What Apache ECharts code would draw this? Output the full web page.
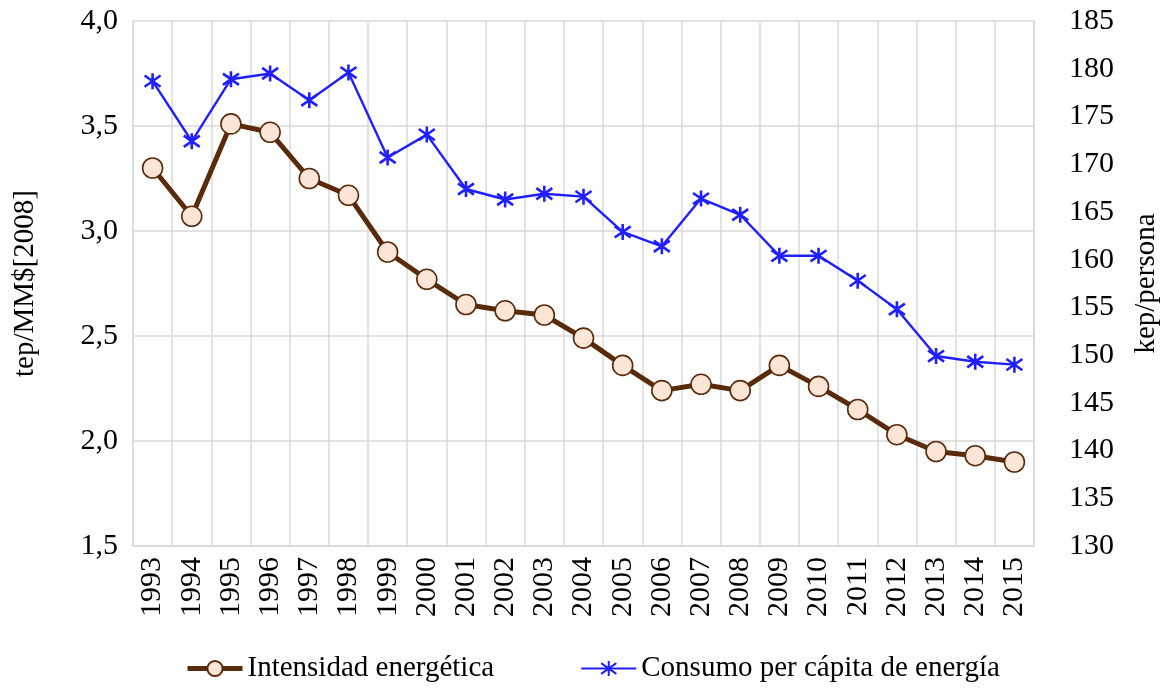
<!DOCTYPE html>
<html>
<head>
<meta charset="utf-8">
<script src="https://cdn.jsdelivr.net/npm/echarts@6/dist/echarts.min.js"></script>
<style>html,body{margin:0;padding:0;background:#fff}#c{width:1163px;height:690px}</style>
</head>
<body>
<div id="c"></div>
<script>
var years = ['1993','1994','1995','1996','1997','1998','1999','2000','2001','2002','2003','2004','2005','2006','2007','2008','2009','2010','2011','2012','2013','2014','2015'];
var intensidad = [3.30,3.07,3.51,3.47,3.25,3.17,2.90,2.77,2.65,2.62,2.60,2.49,2.36,2.24,2.27,2.24,2.36,2.26,2.15,2.03,1.95,1.93,1.90];
var consumo = [178.7,172.4,178.9,179.5,176.7,179.6,170.7,173.1,167.4,166.3,166.9,166.6,162.9,161.4,166.4,164.7,160.4,160.4,157.8,154.8,149.9,149.3,149.0];
var leftTicks = {min:1.5, max:4.0, interval:0.5};
var rightTicks = {min:130, max:185, interval:5};

var font = 'Liberation Serif';
var brown = '#5a2b0b';
var blue = '#1f1fff';
var starPath = 'path://M5,0L5,10M0,1.5L10,8.5M10,1.5L0,8.5';
var chart = echarts.init(document.getElementById('c'));
chart.setOption({
  backgroundColor: '#ffffff',
  animation: false,
  textStyle: {fontFamily: font, color: '#000'},
  grid: {left: 133, right: 129, top: 21, bottom: 144, show: false, outerBoundsMode: 'none', containLabel: false},
  legend: {
    bottom: 2, left: 180, itemWidth: 55, itemHeight: 19, itemGap: 86,
    textStyle: {fontFamily: font, fontSize: 29, color: '#000'},
    data: [
      {name: 'Intensidad energética', lineStyle: {width: 5, color: brown}},
      {name: 'Consumo per cápita de energía', lineStyle: {width: 2.2, color: blue}}
    ]
  },
  xAxis: {
    type: 'category', data: years, boundaryGap: true,
    axisLine: {show: true, lineStyle: {color: '#d9d9d9', width: 1.5}},
    axisTick: {show: false},
    splitLine: {show: true, interval: 0, lineStyle: {color: '#d9d9d9', width: 1.5}},
    axisLabel: {rotate: 90, interval: 0, margin: 11, fontFamily: font, fontSize: 30, color: '#000'}
  },
  yAxis: [{
    type: 'value', min: leftTicks.min, max: leftTicks.max, interval: leftTicks.interval,
    name: 'tep/MM$[2008]', nameLocation: 'middle', nameRotate: 90, nameGap: 93,
    nameTextStyle: {fontFamily: font, fontSize: 29, color: '#000'},
    axisLine: {show: true, lineStyle: {color: '#d9d9d9', width: 1.5}},
    axisTick: {show: false},
    splitLine: {show: true, lineStyle: {color: '#d9d9d9', width: 1.5}},
    axisLabel: {margin: 15, fontFamily: font, fontSize: 30, color: '#000',
      formatter: function(v){ return v.toFixed(1).replace('.', ','); }}
  }, {
    type: 'value', min: rightTicks.min, max: rightTicks.max, interval: rightTicks.interval,
    position: 'right',
    name: 'kep/persona', nameLocation: 'middle', nameRotate: 90, nameGap: 98,
    nameTextStyle: {fontFamily: font, fontSize: 29, color: '#000'},
    axisLine: {show: true, lineStyle: {color: '#d9d9d9', width: 1.5}},
    axisTick: {show: false},
    splitLine: {show: false},
    axisLabel: {margin: 35, fontFamily: font, fontSize: 30, color: '#000'}
  }],
  series: [{
    name: 'Intensidad energética', type: 'line', yAxisIndex: 0, data: intensidad,
    symbol: 'circle', symbolSize: 20,
    lineStyle: {color: brown, width: 5},
    itemStyle: {color: '#fbe5d6', borderColor: brown, borderWidth: 1.6},
    z: 3
  }, {
    name: 'Consumo per cápita de energía', type: 'line', yAxisIndex: 1, data: consumo,
    symbol: starPath, symbolSize: 16,
    lineStyle: {color: blue, width: 2.4},
    itemStyle: {color: blue, borderColor: blue, borderWidth: 2.6},
    z: 4
  }]
});
</script>
</body>
</html>
